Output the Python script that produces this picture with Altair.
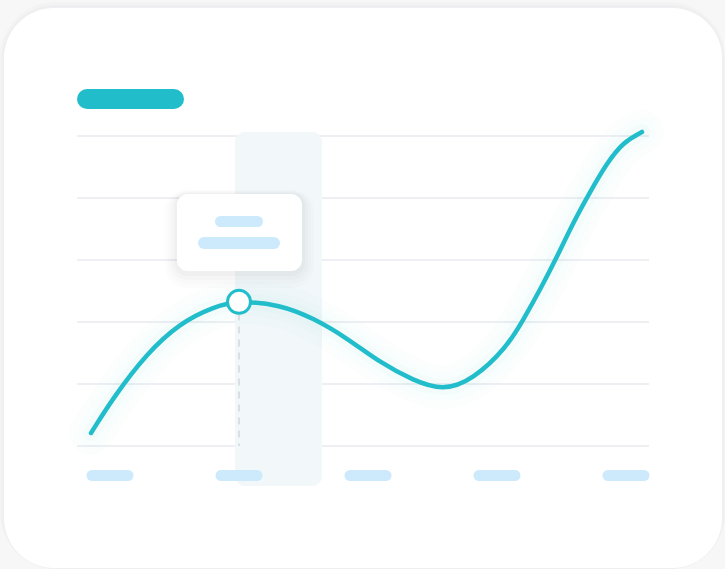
import altair as alt
import pandas as pd

W, H = 725, 569

# ---- data ---------------------------------------------------------------
categories = [0, 1, 2, 3, 4]            # x-axis categories (label pills)
grid_values = [0, 1, 2, 3, 4, 5]        # horizontal grid levels
series_x = [-0.147, 0.023, 0.287, 0.543, 0.798, 1.000, 1.318, 1.574, 1.837,
            2.093, 2.349, 2.581, 2.814, 3.078, 3.202, 3.333, 3.465, 3.589,
            3.721, 3.853, 3.977, 4.124]
series_y = [0.210, 0.774, 1.500, 1.984, 2.242, 2.345, 2.280, 2.065, 1.742,
            1.345, 1.060, 0.890, 1.070, 1.597, 2.032, 2.516, 3.048, 3.597,
            4.097, 4.565, 4.900, 5.065]
highlight_i = 5                          # index of the highlighted point

# ---- frame: category units <-> canvas --------------------------------------
X0, XS = 110, 129
Y0, YS = 446, 62


def px(v):
    return (v - X0) / XS


def py(v):
    return (Y0 - v) / YS


xs = alt.Scale(domain=[px(0), px(W)], nice=False, zero=False)
ys = alt.Scale(domain=[py(H), py(0)], nice=False, zero=False)

TEAL = "#22bdcb"
PILL = "#cdeafd"


def rect(x1, x2, y1, y2, **kw):
    df = pd.DataFrame({"x": [px(x1)], "x2": [px(x2)], "y": [py(y1)], "y2": [py(y2)]})
    return alt.Chart(df).mark_rect(**kw).encode(
        x=alt.X("x:Q", scale=xs, axis=None), x2="x2:Q",
        y=alt.Y("y:Q", scale=ys, axis=None), y2="y2:Q")


def hpill(x1, x2, yc, h, color):
    # horizontal pill: round-capped rule
    r = h / 2
    df = pd.DataFrame({"x": [px(x1 + r)], "x2": [px(x2 - r)], "y": [py(yc)]})
    return alt.Chart(df).mark_rule(strokeCap="round", strokeWidth=h, color=color).encode(
        x=alt.X("x:Q", scale=xs, axis=None), x2="x2:Q",
        y=alt.Y("y:Q", scale=ys, axis=None))


layers = []
# card shadow and card
layers.append(rect(0, 725, 2, 569, fill="#f1f1f2", cornerRadius=56, opacity=0.8))
layers.append(rect(2, 724, 5, 569, fill="#ededef", cornerRadius=54, opacity=0.7))
layers.append(rect(4, 722, 8, 568, fill="#ffffff", cornerRadius=50))

# grid lines
grid_df = pd.DataFrame({"y": grid_values, "x": px(77), "x2": px(649)})
layers.append(alt.Chart(grid_df).mark_rule(color="#eeeff3", strokeWidth=2).encode(
    x=alt.X("x:Q", scale=xs, axis=None), x2="x2:Q",
    y=alt.Y("y:Q", scale=ys, axis=None)))

# highlight band
layers.append(rect(235, 322, 132, 486, fill="#f2f7fa", cornerRadius=10))

# line with glow
line_df = pd.DataFrame({"x": series_x, "y": series_y, "o": range(len(series_x))})
enc = dict(x=alt.X("x:Q", scale=xs, axis=None),
           y=alt.Y("y:Q", scale=ys, axis=None), order="o:Q")
for sw, op in [(44, 0.02), (28, 0.025), (16, 0.03)]:
    layers.append(alt.Chart(line_df).mark_line(
        interpolate="basis", color="#5fe3cf", strokeWidth=sw, opacity=op,
        strokeCap="round").encode(**enc))
layers.append(alt.Chart(line_df).mark_line(
    interpolate="basis", color=TEAL, strokeWidth=4.5,
    strokeCap="round", strokeJoin="round").encode(**enc))

# dashed drop line from the highlighted point
hx, hy = series_x[highlight_i], series_y[highlight_i]
drop_df = pd.DataFrame({"x": [hx], "y": [hy], "y2": [grid_values[0]]})
layers.append(alt.Chart(drop_df).mark_rule(
    color="#d3d6dc", strokeWidth=1.5, strokeDash=[7, 6]).encode(
    x=alt.X("x:Q", scale=xs, axis=None),
    y=alt.Y("y:Q", scale=ys, axis=None), y2="y2:Q"))

# marker
pt_df = pd.DataFrame({"x": [hx], "y": [hy - 0.02]})
layers.append(alt.Chart(pt_df).mark_point(
    shape="circle", size=530, filled=True, fill="#ffffff", stroke=TEAL,
    strokeWidth=3, opacity=1).encode(
    x=alt.X("x:Q", scale=xs, axis=None), y=alt.Y("y:Q", scale=ys, axis=None)))

# x-axis label pills
half = 18 / XS
lab_df = pd.DataFrame({"c": categories})
lab_df["x"] = lab_df["c"] - half
lab_df["x2"] = lab_df["c"] + half
lab_df["y"] = py(475.5)
layers.append(alt.Chart(lab_df).mark_rule(strokeCap="round", strokeWidth=11, color=PILL).encode(
    x=alt.X("x:Q", scale=xs, axis=None), x2="x2:Q",
    y=alt.Y("y:Q", scale=ys, axis=None)))

# tooltip with soft shadow
layers.append(rect(165, 314, 190, 288, fill="#000000", opacity=0.01, cornerRadius=22))
layers.append(rect(168, 311, 191, 284, fill="#000000", opacity=0.012, cornerRadius=19))
layers.append(rect(171, 308, 192, 280, fill="#000000", opacity=0.015, cornerRadius=16))
layers.append(rect(174, 305, 193, 276, fill="#000000", opacity=0.018, cornerRadius=13))
layers.append(rect(177, 302, 194, 271, fill="#ffffff", cornerRadius=11))
layers.append(hpill(215, 263, 221.5, 11, PILL))
layers.append(hpill(198, 280, 243, 12, PILL))

# title pill
layers.append(hpill(77, 184, 99, 20, TEAL))

chart = alt.layer(*layers).properties(
    width=W, height=H, padding=0, autosize=alt.AutoSizeParams(type="none"),
    background="#f7f7f8",
).configure_view(stroke=None)

chart.save("out.html", embed_options={"renderer": "svg", "actions": False})
